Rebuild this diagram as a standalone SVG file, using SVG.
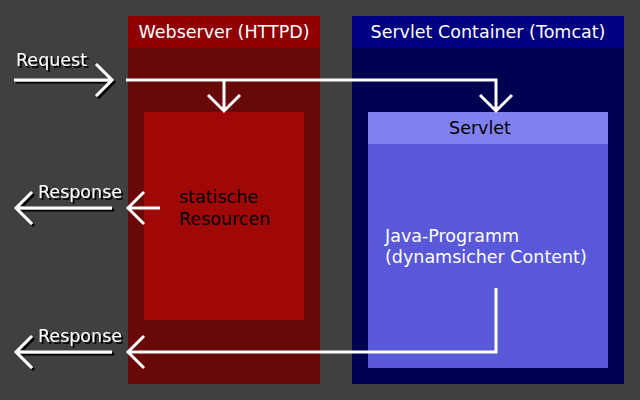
<svg xmlns="http://www.w3.org/2000/svg" width="640" height="400" viewBox="0 0 640 400">
<defs>
<style>
.a{fill:none;stroke:#fff;stroke-width:3}
.t{font-family:"DejaVu Sans",sans-serif;font-size:17.5px}
</style>
<filter id="sh" x="-10%" y="-30%" width="130%" height="160%">
<feDropShadow dx="2" dy="2" stdDeviation="0" flood-color="#000"/>
</filter>
</defs>
<rect width="640" height="400" fill="#404040"/>
<g id="webserver">
<rect x="128" y="16" width="192" height="368" fill="#680808"/>
<rect x="128" y="16" width="192" height="32" fill="#900000"/>
<text x="224" y="38" text-anchor="middle" class="t" fill="#fff">Webserver (HTTPD)</text>
</g>
<g id="static">
<rect x="144" y="112" width="160" height="208" fill="#a00808"/>
<text x="179" y="203" class="t" fill="#000">statische</text>
<text x="179" y="225" class="t" fill="#000">Resourcen</text>
</g>
<g id="tomcat">
<rect x="352" y="16" width="272" height="368" fill="#000050"/>
<rect x="352" y="16" width="272" height="32" fill="#000080"/>
<text x="488" y="38" text-anchor="middle" class="t" fill="#fff">Servlet Container (Tomcat)</text>
</g>
<g id="servlet">
<rect x="368" y="112" width="240" height="32" fill="#8080f0"/>
<rect x="368" y="144" width="240" height="224" fill="#5858d8"/>
<text x="480" y="134" text-anchor="middle" class="t" fill="#000">Servlet</text>
<text x="385" y="242" class="t" fill="#fff">Java-Programm</text>
<text x="385" y="263" class="t" fill="#fff">(dynamsicher Content)</text>
</g>
<g id="connectors">
<g filter="url(#sh)">
<path class="a" d="M14 80H112M96 64L112 80L96 96"/>
<path class="a" d="M112 208H16M32 192L16 208L32 224"/>
<path class="a" d="M112 352H16M32 336L16 352L32 368"/>
<text x="16" y="66" class="t" fill="#fff">Request</text>
<text x="38" y="198" class="t" fill="#fff">Response</text>
<text x="38" y="342" class="t" fill="#fff">Response</text>
</g>
<path class="a" d="M126 80H496V111M480 95L496 111L512 95"/>
<path class="a" d="M224 80V111M208 95L224 111L240 95"/>
<path class="a" d="M160 208H128M144 192L128 208L144 224"/>
<path class="a" d="M496 288V352H128M144 336L128 352L144 368"/>
</g>
</svg>
